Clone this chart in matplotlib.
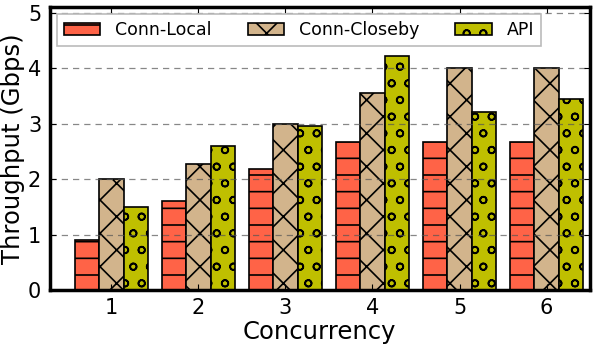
import matplotlib
matplotlib.use("Agg")
import matplotlib.pyplot as plt
import numpy as np

plt.rcParams['hatch.linewidth'] = 1.2

categories = ["1", "2", "3", "4", "5", "6"]
series_names = ["Conn-Local", "Conn-Closeby", "API"]
conn_local = [0.9, 1.6, 2.18, 2.66, 2.66, 2.66]
conn_closeby = [2.0, 2.28, 3.0, 3.55, 4.0, 4.0]
api = [1.5, 2.6, 2.95, 4.22, 3.2, 3.45]
yticks = [0, 1, 2, 3, 4, 5]

colors = ["#FF6347", "#D2B48C", "#BFBF00"]
hatches = ["-", "x", "o"]

fig = plt.figure(figsize=(5.98, 3.48), dpi=100)
ax = fig.add_axes([0.0828, 0.1667, 0.904, 0.813])

x = np.arange(1, len(categories) + 1)
w = 0.28
for i, (vals, name) in enumerate(zip([conn_local, conn_closeby, api], series_names)):
    ax.bar(x + (i - 1) * w, vals, w, color=colors[i], hatch=hatches[i],
           edgecolor="black", linewidth=1.2, label=name, zorder=2)

ax.set_xlim(0.29, 6.5)
ax.set_ylim(0, 5.1)
ax.set_xticks(x)
ax.set_xticklabels(categories)
ax.set_yticks(yticks)
ax.yaxis.grid(True, linestyle=(0, (5, 4)), color="#555555", alpha=0.7, linewidth=0.9, zorder=3)
ax.set_axisbelow(False)
ax.tick_params(direction="in", labelsize=15, top=True, right=True, length=4, pad=6)
for s in ax.spines.values():
    s.set_linewidth(2.5)
    s.set_zorder(5)
ax.set_xlabel("Concurrency", fontsize=17.5, labelpad=1)
ax.set_ylabel("Throughput (Gbps)", fontsize=17.5, labelpad=2)

leg = ax.legend(loc="upper left", ncol=3, fontsize=12.5, frameon=True, fancybox=False,
                bbox_to_anchor=(57 / 598, 1 - 14 / 348), bbox_transform=fig.transFigure,
                borderaxespad=0, handlelength=2.1, columnspacing=2.07,
                handletextpad=0.86, framealpha=1)
leg.get_frame().set_edgecolor("#BBBBBB")
leg.get_frame().set_linewidth(1.2)
leg.set_zorder(6)

fig.savefig("out.png", dpi=100)
